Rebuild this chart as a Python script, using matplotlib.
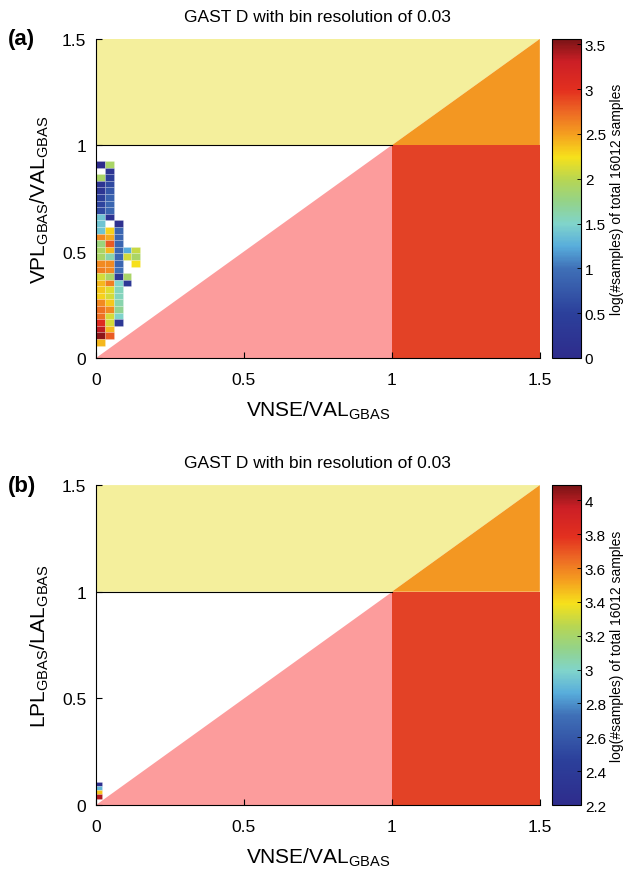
import numpy as np
import matplotlib
matplotlib.use("Agg")
import matplotlib.pyplot as plt
from matplotlib.colors import LinearSegmentedColormap, Normalize
from matplotlib.collections import PatchCollection
from matplotlib.patches import Rectangle

plt.rcParams['font.family'] = ['Liberation Sans', 'DejaVu Sans']
plt.rcParams['mathtext.fontset'] = 'custom'
plt.rcParams['mathtext.rm'] = 'Liberation Sans'

# --- data ---
title = 'GAST D with bin resolution of 0.03'
cbar_label = 'log(#samples) of total 16012 samples'
limit = 1.0      # VPL/VAL = 1 and VNSE/VAL = 1
axis_max = 1.5
ticks = [0, 0.5, 1, 1.5]
tick_labels = ['0', '0.5', '1', '1.5']

# panel (a): log10 counts, rows from top (high VPL) to bottom, columns from VNSE = 0
a_bin_w = 0.03
a_bin_h = 0.031
a_y_bottom = 0.058
a_rows = [
    [0.0, 1.9],
    [np.nan, 0.2],
    [1.9, 0.45],
    [0.2, 0.6],
    [0.25, 0.75],
    [0.5, 0.85],
    [0.55, 0.9],
    [0.6, 0.9],
    [1.4, 0.2],
    [1.4, np.nan, 0.1],
    [1.4, 2.3, 0.9],
    [2.6, 2.45, 0.9],
    [1.8, 2.8, 0.9],
    [1.9, 2.4, 0.9, 1.25, 2.05],
    [1.9, 1.6, 0.9, 2.1, 1.9],
    [2.6, 2.6, 0.9, np.nan, 2.25],
    [2.65, 2.6, 1.0],
    [2.1, 1.9, 0.3, 1.9],
    [2.4, 2.65, 1.5, 0.3],
    [2.35, 2.15, 1.55],
    [2.3, 2.1, 1.55],
    [2.6, 2.35, 1.6],
    [2.7, 2.6, 1.7],
    [2.7, 2.1, 1.5],
    [3.05, 2.1, 0.3],
    [3.35, 2.4],
    [3.5, 2.8],
    [2.4],
]
a_vmin, a_vmax = 0, 3.56
a_cticks = [0, 0.5, 1, 1.5, 2, 2.5, 3, 3.5]

# panel (b)
b_bin_w = 0.02
b_bin_h = 0.02
b_y_bottom = 0.03
b_rows = [[2.25], [2.9], [3.45], [4.0]]
b_vmin, b_vmax = 2.2, 4.09
b_cticks = [2.2, 2.4, 2.6, 2.8, 3, 3.2, 3.4, 3.6, 3.8, 4]

cmap = LinearSegmentedColormap.from_list('softjet', [
    (0.00, '#2e2c8c'), (0.14, '#2c409b'), (0.28, '#3f70b7'), (0.35, '#58addc'),
    (0.42, '#80d4cb'), (0.49, '#94d388'), (0.56, '#b8d652'), (0.63, '#f6e11b'),
    (0.70, '#f5a11f'), (0.77, '#ed6a24'), (0.84, '#e3301f'), (0.93, '#cc1f26'),
    (1.00, '#7a1416')])

c_yellow = '#f4ef9c'
c_orange = '#f39722'
c_red = '#e34226'
c_pink = '#fc9c9c'


def draw_panel(ax, cax, rows, bw, bh, y0, vmin, vmax, cticks, ylab, letter):
    # integrity regions
    ax.fill([0, limit, axis_max, 0], [limit, limit, axis_max, axis_max],
            color=c_yellow, lw=0, zorder=0)
    ax.fill([limit, axis_max, axis_max], [limit, axis_max, limit], color=c_orange, lw=0, zorder=0)
    ax.fill([limit, axis_max, axis_max, limit], [0, 0, limit, limit], color=c_red, lw=0, zorder=0)
    ax.fill([0, limit, limit], [0, 0, limit], color=c_pink, lw=0, zorder=0)
    ax.plot([0, limit], [limit, limit], color='black', lw=0.8, zorder=1)

    # histogram cells
    rects, vals = [], []
    n = len(rows)
    for i, r in enumerate(rows):
        yb = y0 + (n - 1 - i) * bh
        for j, v in enumerate(r):
            if np.isnan(v):
                continue
            rects.append(Rectangle((j * bw, yb), bw, bh))
            vals.append(v)
    pc = PatchCollection(rects, cmap=cmap, norm=Normalize(vmin, vmax),
                         edgecolor=(1, 1, 1, 0.3), linewidth=0.4, zorder=2)
    pc.set_array(np.array(vals))
    ax.add_collection(pc)

    ax.set_xlim(0, axis_max)
    ax.set_ylim(0, axis_max)
    ax.set_xticks(ticks)
    ax.set_xticklabels(tick_labels)
    ax.set_yticks(ticks)
    ax.set_yticklabels(tick_labels)
    ax.tick_params(direction='in', labelsize=12.5, length=4)
    ax.tick_params(axis='x', pad=10)
    ax.tick_params(axis='y', pad=7)
    for s in ax.spines.values():
        s.set_linewidth(0.8)
    ax.spines['top'].set_visible(False)
    ax.spines['right'].set_visible(False)
    ax.set_title(title, fontsize=12.5, pad=13)
    ax.set_xlabel(r'VNSE/VAL$_{\mathrm{GBAS}}$', fontsize=15, labelpad=8)
    ax.set_ylabel(ylab, fontsize=15, labelpad=8)
    ax.text(-0.198, 1.0, letter, transform=ax.transAxes, fontsize=16, fontweight='bold',
            ha='left', va='center')

    cb = plt.colorbar(pc, cax=cax)
    cb.set_ticks(cticks)
    cb.set_ticklabels([f'{t:g}' for t in cticks])
    cb.ax.tick_params(direction='in', labelsize=11, length=3, width=0.6, pad=3)
    cb.outline.set_linewidth(0.8)
    cb.set_label(cbar_label, fontsize=10, labelpad=3)


fig = plt.figure(figsize=(6.27, 8.79), dpi=100)
ax_a = fig.add_axes([0.153, 0.5916, 0.708, 0.363])
cax_a = fig.add_axes([0.881, 0.5916, 0.045, 0.363])
ax_b = fig.add_axes([0.153, 0.083, 0.708, 0.364])
cax_b = fig.add_axes([0.881, 0.083, 0.045, 0.364])

draw_panel(ax_a, cax_a, a_rows, a_bin_w, a_bin_h, a_y_bottom, a_vmin, a_vmax, a_cticks,
           r'VPL$_{\mathrm{GBAS}}$/VAL$_{\mathrm{GBAS}}$', '(a)')
draw_panel(ax_b, cax_b, b_rows, b_bin_w, b_bin_h, b_y_bottom, b_vmin, b_vmax, b_cticks,
           r'LPL$_{\mathrm{GBAS}}$/LAL$_{\mathrm{GBAS}}$', '(b)')

fig.savefig('out.png', dpi=100)
